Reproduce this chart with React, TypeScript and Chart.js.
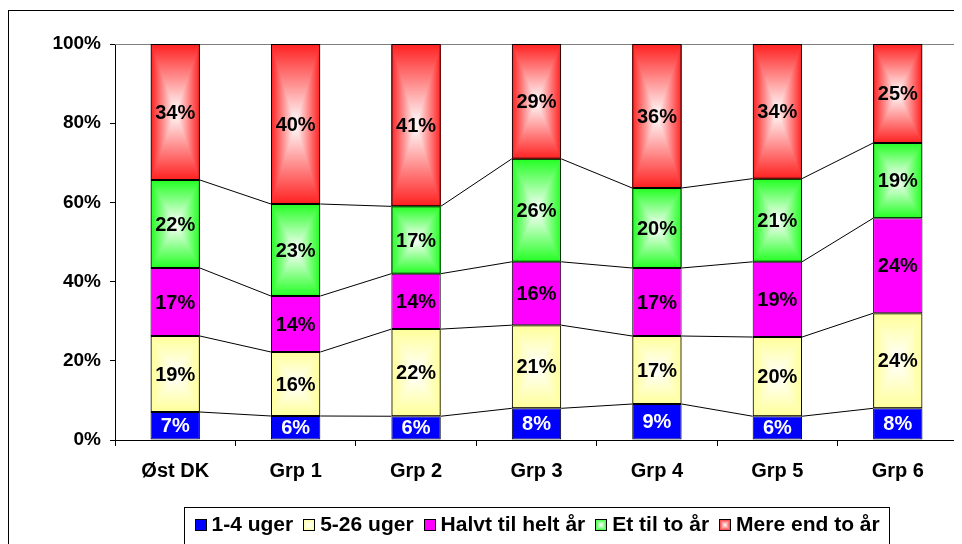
import React, { useEffect, useRef } from 'react';
import { Chart, registerables } from 'chart.js';

Chart.register(...registerables);

const categories = ['Øst DK', 'Grp 1', 'Grp 2', 'Grp 3', 'Grp 4', 'Grp 5', 'Grp 6'];
const seriesNames = ['1-4 uger', '5-26 uger', 'Halvt til helt år', 'Et til to år', 'Mere end to år'];
const uger1til4 = [7, 6, 6, 8, 9, 6, 8];
const uger5til26 = [19, 16, 22, 21, 17, 20, 24];
const halvtTilHelt = [17, 14, 14, 16, 17, 19, 24];
const etTilTo = [22, 23, 17, 26, 20, 21, 19];
const mereEndTo = [34, 40, 41, 29, 36, 34, 25];
const yTickValues = [0, 20, 40, 60, 80, 100];

const seriesValues = [uger1til4, uger5til26, halvtTilHelt, etTilTo, mereEndTo];
const seriesColors = ['#0000FF', '#FFFF99', '#FF00FF', '#22FF22', '#FF2020'];
const seriesGradient = [false, true, false, true, true];
const labelColors = ['#FFFFFF', '#000000', '#000000', '#000000', '#000000'];

const FONT = '"Liberation Sans", Arial, sans-serif';

function hexToRgb(hex: string) {
  const n = parseInt(hex.slice(1), 16);
  return [(n >> 16) & 255, (n >> 8) & 255, n & 255];
}

function fillCenterGradient(ctx: CanvasRenderingContext2D, x1: number, y1: number, x2: number, y2: number, color: string) {
  const left = Math.round(x1);
  const top = Math.round(y1);
  const w = Math.max(1, Math.round(x2) - left);
  const h = Math.max(1, Math.round(y2) - top);
  const off = document.createElement('canvas');
  off.width = w;
  off.height = h;
  const octx = off.getContext('2d') as CanvasRenderingContext2D;
  const img = octx.createImageData(w, h);
  const [r, g, b] = hexToRgb(color);
  const hw = w / 2;
  const hh = h / 2;
  for (let j = 0; j < h; j++) {
    const dy = Math.abs(j + 0.5 - hh) / hh;
    for (let i = 0; i < w; i++) {
      const dx = Math.abs(i + 0.5 - hw) / hw;
      const t = Math.min(1, Math.max(dx, dy));
      const k = (j * w + i) * 4;
      img.data[k] = Math.round(255 + (r - 255) * t);
      img.data[k + 1] = Math.round(255 + (g - 255) * t);
      img.data[k + 2] = Math.round(255 + (b - 255) * t);
      img.data[k + 3] = 255;
    }
  }
  octx.putImageData(img, 0, 0);
  ctx.drawImage(off, left, top);
}

const totals = categories.map((_, i) => seriesValues.reduce((s, arr) => s + arr[i], 0));

const customPlugin = {
  id: 'customDraw',
  beforeDatasetsDraw(chart: any) {
    const ctx: CanvasRenderingContext2D = chart.ctx;
    const area = chart.chartArea;
    ctx.save();
    ctx.strokeStyle = '#808080';
    ctx.lineWidth = 1;
    ctx.beginPath();
    ctx.moveTo(area.left, Math.round(area.top) + 0.5);
    ctx.lineTo(Math.round(area.right) + 0.5, Math.round(area.top) + 0.5);
    ctx.lineTo(Math.round(area.right) + 0.5, area.bottom);
    ctx.stroke();
    ctx.restore();
    chart.data.datasets.forEach((ds: any, d: number) => {
      if (!seriesGradient[d]) return;
      const meta = chart.getDatasetMeta(d);
      meta.data.forEach((bar: any) => {
        const p = bar.getProps(['x', 'y', 'base', 'width'], true);
        const left = p.x - p.width / 2;
        const right = p.x + p.width / 2;
        const top = Math.min(p.y, p.base);
        const bottom = Math.max(p.y, p.base);
        fillCenterGradient(ctx, left, top, right, bottom, seriesColors[d]);
      });
    });
  },
  afterDatasetsDraw(chart: any) {
    const ctx: CanvasRenderingContext2D = chart.ctx;
    ctx.save();
    ctx.strokeStyle = '#000000';
    ctx.lineWidth = 1;
    for (let d = 0; d < seriesValues.length - 1; d++) {
      const meta = chart.getDatasetMeta(d);
      for (let i = 0; i < meta.data.length - 1; i++) {
        const a = meta.data[i].getProps(['x', 'y', 'width'], true);
        const b = meta.data[i + 1].getProps(['x', 'y', 'width'], true);
        ctx.beginPath();
        ctx.moveTo(a.x + a.width / 2, a.y);
        ctx.lineTo(b.x - b.width / 2, b.y);
        ctx.stroke();
      }
    }
    ctx.restore();
    ctx.save();
    ctx.font = `bold 20px ${FONT}`;
    ctx.textAlign = 'center';
    ctx.textBaseline = 'middle';
    seriesValues.forEach((vals, d) => {
      const meta = chart.getDatasetMeta(d);
      meta.data.forEach((bar: any, i: number) => {
        const p = bar.getProps(['x', 'y', 'base'], true);
        ctx.fillStyle = labelColors[d];
        ctx.fillText(vals[i] + '%', p.x, (p.y + p.base) / 2 + 1);
      });
    });
    ctx.restore();
  },
  afterDraw(chart: any) {
    const ctx: CanvasRenderingContext2D = chart.ctx;
    const area = chart.chartArea;
    ctx.save();
    ctx.strokeStyle = '#000000';
    ctx.lineWidth = 1;
    ctx.strokeRect(0.5, 2.5, chart.width + 20, chart.height + 20);
    ctx.restore();
    ctx.save();
    ctx.font = `bold 21px ${FONT}`;
    ctx.textBaseline = 'middle';
    ctx.textAlign = 'left';
    const sq = 12;
    const gapSqText = 5;
    const gapItems = 10;
    const pad = 10;
    const widths = seriesNames.map((n) => ctx.measureText(n).width);
    const content = widths.reduce((s, w) => s + sq + gapSqText + w, 0) + gapItems * (seriesNames.length - 1);
    const cx = (area.left + area.right) / 2;
    const boxLeft = Math.round(cx - content / 2 - pad) + 0.5;
    const boxRight = Math.round(cx + content / 2 + pad) + 0.5;
    const boxTop = 499.5;
    ctx.strokeStyle = '#000000';
    ctx.lineWidth = 1;
    ctx.fillStyle = '#FFFFFF';
    ctx.fillRect(boxLeft, boxTop, boxRight - boxLeft, 60);
    ctx.strokeRect(boxLeft, boxTop, boxRight - boxLeft, 60);
    let x = boxLeft + pad;
    const midY = 517;
    seriesNames.forEach((name, d) => {
      const sx = Math.round(x);
      const sy = Math.round(midY - sq / 2);
      if (seriesGradient[d]) {
        fillCenterGradient(ctx, sx, sy, sx + sq, sy + sq, seriesColors[d]);
      } else {
        ctx.fillStyle = seriesColors[d];
        ctx.fillRect(sx, sy, sq, sq);
      }
      ctx.strokeStyle = '#000000';
      ctx.strokeRect(sx + 0.5, sy + 0.5, sq - 1, sq - 1);
      ctx.fillStyle = '#000000';
      ctx.fillText(name, x + sq + gapSqText, midY);
      x += sq + gapSqText + widths[d] + gapItems;
    });
    ctx.restore();
  },
};

export default function App() {
  const canvasRef = useRef<HTMLCanvasElement | null>(null);

  useEffect(() => {
    if (!canvasRef.current) return;
    const datasets = seriesValues.map((vals, d) => ({
      label: seriesNames[d],
      data: vals.map((v, i) => (v / totals[i]) * 100),
      backgroundColor: seriesGradient[d] ? 'rgba(0,0,0,0)' : seriesColors[d],
      borderColor: '#000000',
      borderWidth: 1,
      borderSkipped: false as const,
      barPercentage: 0.41,
      categoryPercentage: 1,
    }));
    const chart = new Chart(canvasRef.current, {
      type: 'bar',
      data: { labels: categories, datasets },
      options: {
        animation: false,
        responsive: true,
        maintainAspectRatio: false,
        layout: { padding: { top: 36, right: 4, bottom: 0, left: 0 } },
        plugins: {
          legend: { display: false },
          tooltip: { enabled: false },
        },
        scales: {
          x: {
            stacked: true,
            grid: { drawOnChartArea: false, drawTicks: true, tickLength: 6, tickColor: '#000000', offset: true },
            border: { display: true, color: '#000000', width: 1 },
            ticks: { color: '#000000', font: { family: FONT, size: 20, weight: 'bold' }, padding: 13, maxRotation: 0 },
            afterFit: (scale: any) => {
              scale.height = 104;
            },
          },
          y: {
            stacked: true,
            min: 0,
            max: 100,
            afterBuildTicks: (scale: any) => {
              scale.ticks = yTickValues.map((v) => ({ value: v }));
            },
            grid: { drawOnChartArea: false, drawTicks: true, tickLength: 5, tickColor: '#000000' },
            border: { display: true, color: '#000000', width: 1 },
            ticks: {
              color: '#000000',
              font: { family: FONT, size: 19, weight: 'bold' },
              padding: 9,
              callback: (v: any) => v + '%',
            },
            afterFit: (scale: any) => {
              scale.width = 107;
            },
          },
        },
      },
      plugins: [customPlugin],
    } as any);
    return () => chart.destroy();
  }, []);

  return (
    <div style={{ width: 954, height: 536, position: 'relative' }}>
      <canvas ref={canvasRef} />
    </div>
  );
}
